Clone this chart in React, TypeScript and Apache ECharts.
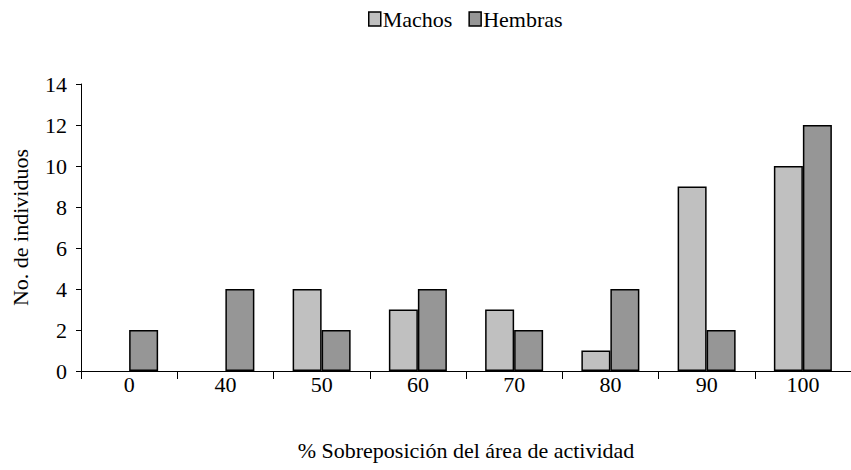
import React, { useEffect, useRef } from "react";
import * as echarts from "echarts";

const categories = ["0", "40", "50", "60", "70", "80", "90", "100"];
const machos = [0, 0, 4, 3, 3, 1, 9, 10];
const hembras = [2, 4, 2, 4, 2, 4, 2, 12];
const seriesNames = ["Machos", "Hembras"];
const yTicks = { min: 0, max: 14, interval: 2 };

const FONT = "'Liberation Serif', 'Times New Roman', serif";

const toBars = (arr: number[]) => arr.map((v) => (v === 0 ? "-" : v));

export default function App() {
  const ref = useRef<HTMLDivElement>(null);
  useEffect(() => {
    if (!ref.current) return;
    const chart = echarts.init(ref.current, null, { renderer: "svg" });
    chart.setOption({
      animation: false,
      textStyle: { fontFamily: FONT, color: "#000" },
      legend: {
        left: 363,
        top: 3,
        itemWidth: 12,
        itemHeight: 14,
        itemGap: 16,
        icon: "rect",
        textStyle: { fontFamily: FONT, fontSize: 22, color: "#000", padding: [0, 0, 0, -3] },
        data: seriesNames.map((n) => ({ name: n, itemStyle: { borderColor: "#000", borderWidth: 1.5 } })),
      },
      grid: { left: 81, top: 84, bottom: 99, right: -4, containLabel: false },
      xAxis: {
        type: "category",
        data: categories,
        boundaryGap: true,
        axisLine: { lineStyle: { color: "#000", width: 1 } },
        axisTick: { show: true, length: 8, inside: false, lineStyle: { color: "#000" }, alignWithLabel: false },
        axisLabel: { fontFamily: FONT, fontSize: 22, color: "#000", margin: 2, interval: 0 },
        name: "% Sobreposición del área de actividad",
        nameLocation: "middle",
        nameGap: 68,
        nameTextStyle: { fontFamily: FONT, fontSize: 22, color: "#000" },
        splitLine: { show: false },
      },
      yAxis: {
        type: "value",
        min: yTicks.min,
        max: yTicks.max,
        interval: yTicks.interval,
        axisLine: { show: true, lineStyle: { color: "#000", width: 1 } },
        axisTick: { show: true, length: 5, lineStyle: { color: "#000" } },
        axisLabel: { fontFamily: FONT, fontSize: 22, color: "#000", margin: 14 },
        splitLine: { show: false },
        name: "No. de individuos",
        nameLocation: "middle",
        nameGap: 50,
        nameTextStyle: { fontFamily: FONT, fontSize: 22, color: "#000" },
      },
      series: [
        {
          name: seriesNames[0],
          type: "bar",
          data: toBars(machos),
          barWidth: 29,
          barGap: "0%",
          itemStyle: { color: "#c0c0c0", borderColor: "#000", borderWidth: 1.5 },
        },
        {
          name: seriesNames[1],
          type: "bar",
          data: toBars(hembras),
          barWidth: 29,
          barGap: "0%",
          itemStyle: { color: "#969696", borderColor: "#000", borderWidth: 1.5 },
        },
      ],
    });
    return () => chart.dispose();
  }, []);
  return <div ref={ref} style={{ width: 851, height: 470, position: "absolute", left: 0, top: 0 }} />;
}
